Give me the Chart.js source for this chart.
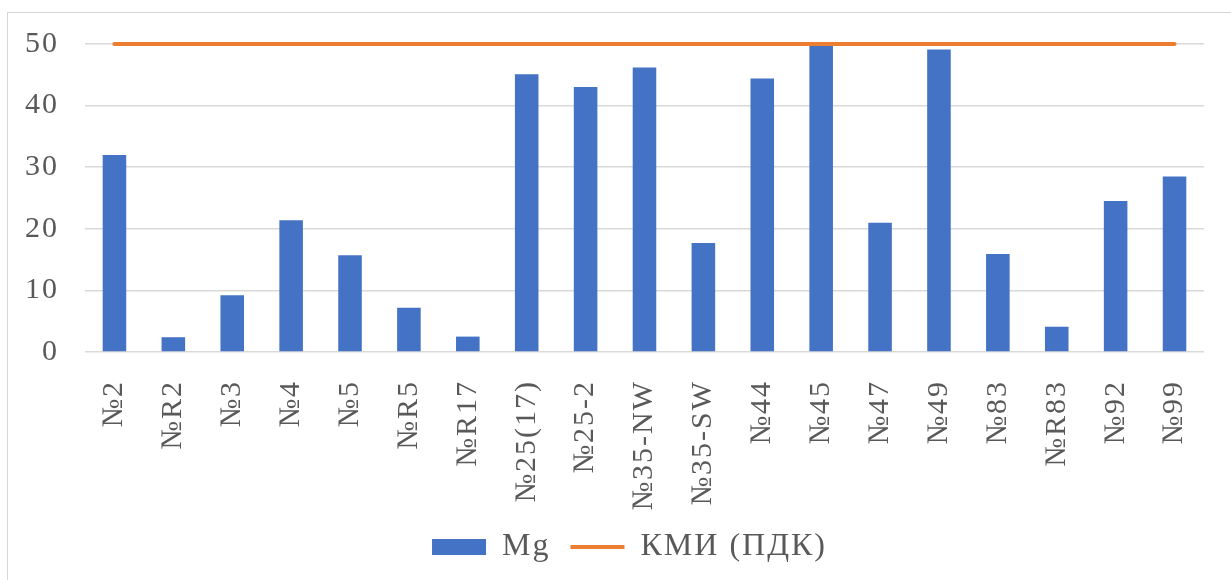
<!DOCTYPE html>
<html>
<head>
<meta charset="utf-8">
<script src="https://cdn.jsdelivr.net/npm/chart.js@4/dist/chart.umd.min.js"></script>
<style>
  html, body { margin: 0; padding: 0; background: #ffffff; }
  #frame {
    position: absolute; left: 7px; top: 12px; width: 1400px; height: 800px;
    border-left: 1px solid #d6d6d6; border-top: 1px solid #d6d6d6;
  }
  #wrap { position: absolute; left: 0; top: 0; width: 1231px; height: 580px; }
</style>
</head>
<body>
<div id="frame"></div>
<div id="wrap"><canvas id="chart" width="1231" height="580"></canvas></div>
<script>
// Sampling points (wells)
const categories = ['№2', '№R2', '№3', '№4', '№5', '№R5', '№R17', '№25(17)', '№25-2', '№35-NW',
                    '№35-SW', '№44', '№45', '№47', '№49', '№83', '№R83', '№92', '№99'];

// Mg concentration at each point
const mgValues = [32.0, 2.4, 9.2, 21.4, 15.7, 7.2, 2.5, 45.1, 43.0, 46.2,
                  17.7, 44.4, 49.7, 21.0, 49.1, 15.9, 4.1, 24.5, 28.5];

// Permissible limit (КМИ / ПДК)
const kmiValues = [50, 50, 50, 50, 50, 50, 50, 50, 50, 50,
                   50, 50, 50, 50, 50, 50, 50, 50, 50];

// Value axis ticks
const yTicks = [0, 10, 20, 30, 40, 50];

const seriesNames = ['Mg', 'КМИ (ПДК)'];

const FONT = "'Liberation Serif', 'Times New Roman', serif";
const TEXT = '#595959';

// Slightly wider letter spacing for all canvas text
const spacing = {
  id: 'spacing',
  beforeUpdate(chart) { chart.ctx.letterSpacing = '2px'; },
  beforeDraw(chart) { chart.ctx.letterSpacing = '2px'; }
};

// Nudge the legend row a little to the right of the canvas centre
const legendShift = {
  id: 'legendShift',
  afterLayout(chart) {
    const lg = chart.legend;
    if (lg) { lg.left += 23; lg.right += 23; }
  }
};

new Chart(document.getElementById('chart'), {
  type: 'bar',
  data: {
    labels: categories,
    datasets: [
      {
        type: 'bar',
        label: seriesNames[0],
        data: mgValues,
        backgroundColor: '#4472C4',
        borderWidth: 0,
        categoryPercentage: 1.0,
        barPercentage: 0.4,
        order: 1,
        pointStyle: 'rect'
      },
      {
        type: 'line',
        label: seriesNames[1],
        data: kmiValues,
        borderColor: '#ED7D31',
        backgroundColor: '#ED7D31',
        borderWidth: 4,
        borderCapStyle: 'round',
        pointRadius: 0,
        fill: false,
        clip: false,
        order: 0,
        pointStyle: 'line'
      }
    ]
  },
  plugins: [spacing, legendShift],
  options: {
    responsive: false,
    animation: false,
    devicePixelRatio: 1,
    layout: { padding: { left: 0, right: 18, top: 43, bottom: 7 } },
    scales: {
      x: {
        offset: true,
        grid: { display: false },
        border: { display: false },
        ticks: {
          color: TEXT,
          font: { family: FONT, size: 30 },
          minRotation: 90,
          maxRotation: 90,
          autoSkip: false,
          padding: 20
        },
        afterFit(scale) { scale.height = 159; }
      },
      y: {
        min: 0,
        max: 50,
        afterBuildTicks(scale) { scale.ticks = yTicks.map(v => ({ value: v })); },
        grid: { color: '#d9d9d9', lineWidth: 1.5, drawTicks: false },
        border: { display: false },
        ticks: {
          color: TEXT,
          font: { family: FONT, size: 30 },
          padding: 26
        },
        afterFit(scale) { scale.width = 85; }
      }
    },
    plugins: {
      legend: {
        position: 'bottom',
        labels: {
          color: TEXT,
          font: { family: FONT, size: 32 },
          usePointStyle: true,
          pointStyleWidth: 54,
          boxHeight: 16,
          padding: 20,
          sort: (a, b) => a.datasetIndex - b.datasetIndex
        }
      },
      tooltip: { enabled: false }
    }
  }
});
</script>
</body>
</html>
